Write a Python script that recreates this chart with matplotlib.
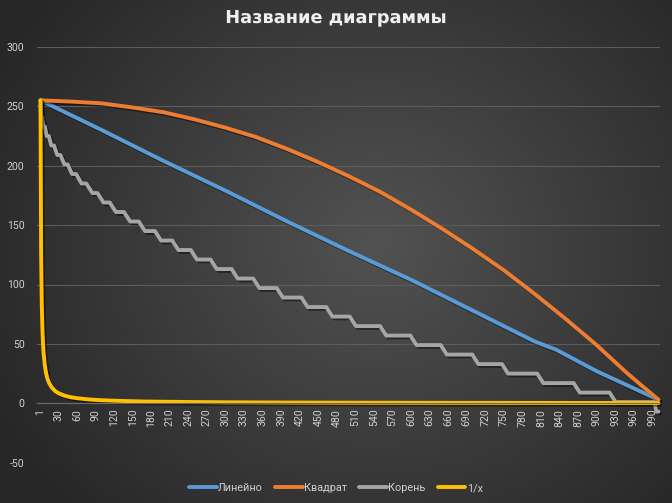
import numpy as np
import matplotlib
matplotlib.use("Agg")
import matplotlib.pyplot as plt
import matplotlib.patheffects as pe
from matplotlib.lines import Line2D

plt.rcParams['font.family'] = ['Roboto', 'DejaVu Sans']
plt.rcParams['axes.unicode_minus'] = False

# ---------------- data ----------------
title = "Название диаграммы"
series_names = ["Линейно", "Квадрат", "Корень", "1/x"]
colors = ["#5B9BD5", "#ED7D31", "#A5A5A5", "#FFC000"]

lin_x = [1, 100, 200, 300, 400, 500, 600, 700, 800, 835, 900, 1000]
lin_y = [255, 230, 204, 179, 153, 128, 104, 78, 52, 45, 27, 3]

sq_x = [1, 50, 100, 150, 200, 250, 300, 350, 400, 450, 500, 550, 600, 650,
        700, 750, 800, 850, 900, 950, 1000]
sq_y = [255, 254, 252.5, 249, 245, 239, 232, 224, 214, 203, 191, 178, 163,
        147, 130, 112, 92, 71, 49, 25, 3]

root_levels = [255, 241, 233, 225, 217, 209, 201, 193, 185, 177, 169, 161,
               153, 145, 137, 129, 121, 113, 105, 97, 89, 81, 73, 65, 57, 49,
               41, 33, 25, 17, 9, 1, -7]
root_drop_x = [1.5, 4.5, 9.5, 16.5, 25.5, 36.5, 48.5, 63, 80, 98, 118, 141,
               165, 191, 219, 249, 281, 315, 350, 388, 428, 468, 506, 555,
               604, 653, 704, 752, 809, 868, 926, 995]

inv_x = [1, 2, 3, 4, 5, 6, 8, 10, 12, 15, 20, 25, 30, 40, 50, 60, 80, 100,
         130, 170, 220, 300, 400, 500, 650, 800, 1000]
inv_y = [255, 127.5, 85, 64, 51, 42.5, 32, 25.5, 21, 17, 12.8, 10.2, 8.5,
         6.4, 5.1, 4.3, 3.2, 2.6, 2.0, 1.5, 1.2, 0.85, 0.64, 0.51, 0.39,
         0.32, 0.26]

x_tick_vals = [1] + list(range(30, 991, 30))
y_ticks = [-50, 0, 50, 100, 150, 200, 250, 300]

# ---------------- build stepped vertices for "Корень" ----------------
rx, ry = [1], [root_levels[0]]
n = len(root_drop_x)
for k, t in enumerate(root_drop_x):
    prev_t = root_drop_x[k - 1] if k > 0 else 1
    next_t = root_drop_x[k + 1] if k < n - 1 else 1000
    w = min(5.0, 0.3 * (t - prev_t), 0.3 * (next_t - t))
    rx += [t - w, t + w]
    ry += [root_levels[k], root_levels[k + 1]]
rx.append(1000)
ry.append(root_levels[-1])

# ---------------- figure ----------------
W, H = 672, 503
fig = plt.figure(figsize=(W / 100, H / 100), dpi=100)

# radial dark background
bg = fig.add_axes([0, 0, 1, 1], zorder=-10)
yy, xx = np.mgrid[0:H, 0:W]
cx, cy = W * 0.56, H * 0.48
r = np.sqrt(((xx - cx) / (W * 0.62)) ** 2 + ((yy - cy) / (H * 0.75)) ** 2)
r = np.clip(r, 0, 1)
c_in = np.array([0x52, 0x52, 0x52]) / 255
c_out = np.array([0x28, 0x28, 0x28]) / 255
img = c_in[None, None, :] * (1 - r[..., None]) + c_out[None, None, :] * r[..., None]
bg.imshow(img, aspect='auto', extent=[0, 1, 0, 1], origin='upper')
bg.set_axis_off()

L, R = 37, 660
ax = fig.add_axes([L / W, 40.3 / H, (R - L) / W, (462.7 - 46.9) / H])
ax.set_facecolor('none')
scale = 618 / 999
ax.set_xlim(1 - (40.5 - L) / scale, 1000 + (R - 658.5) / scale)
ax.set_ylim(-50, 300)

grid_col = "#5c5c5c"
ax.set_yticks(y_ticks)
ax.yaxis.grid(True, color=grid_col, lw=0.8)
ax.set_axisbelow(True)
for s in ['top', 'right', 'left']:
    ax.spines[s].set_visible(False)
ax.spines['bottom'].set_position(('data', 0))
ax.spines['bottom'].set_color("#6a6a6a")
ax.spines['bottom'].set_linewidth(0.8)

ax.set_xticks(x_tick_vals)
ax.set_xticklabels([str(v) for v in x_tick_vals], rotation=90)
ax.tick_params(axis='x', length=0, pad=4, labelsize=7.6, colors="#d0d0d0")
ax.tick_params(axis='y', length=0, pad=9, labelsize=7.6, colors="#d0d0d0")

shadow = [pe.SimpleLineShadow(offset=(1.3, -1.3), shadow_color='black', alpha=0.45),
          pe.Normal()]
lw = 2.8
data = [(lin_x, lin_y), (sq_x, sq_y), (rx, ry), (inv_x, inv_y)]
for (xs, ys), c, nm in zip(data, colors, series_names):
    ax.plot(xs, ys, color=c, lw=lw, solid_joinstyle='round',
            solid_capstyle='round', path_effects=shadow, label=nm, clip_on=False)

fig.text(0.5, 1 - 18 / H, title, ha='center', va='center', fontsize=12.8,
         fontweight='bold', color="#f0f0f0", family=['DejaVu Sans'],
         path_effects=[pe.withSimplePatchShadow(offset=(1, -1), alpha=0.5)])

handles = [Line2D([0], [0], color=c, lw=lw, solid_capstyle='round') for c in colors]
leg = fig.legend(handles, series_names, loc='center', bbox_to_anchor=(0.5, 15 / H),
                 ncol=4, frameon=False, fontsize=7.8, handlelength=2.55,
                 handletextpad=0.15, columnspacing=1.1)
for t in leg.get_texts():
    t.set_color("#d0d0d0")

fig.savefig("out.png", dpi=100)
